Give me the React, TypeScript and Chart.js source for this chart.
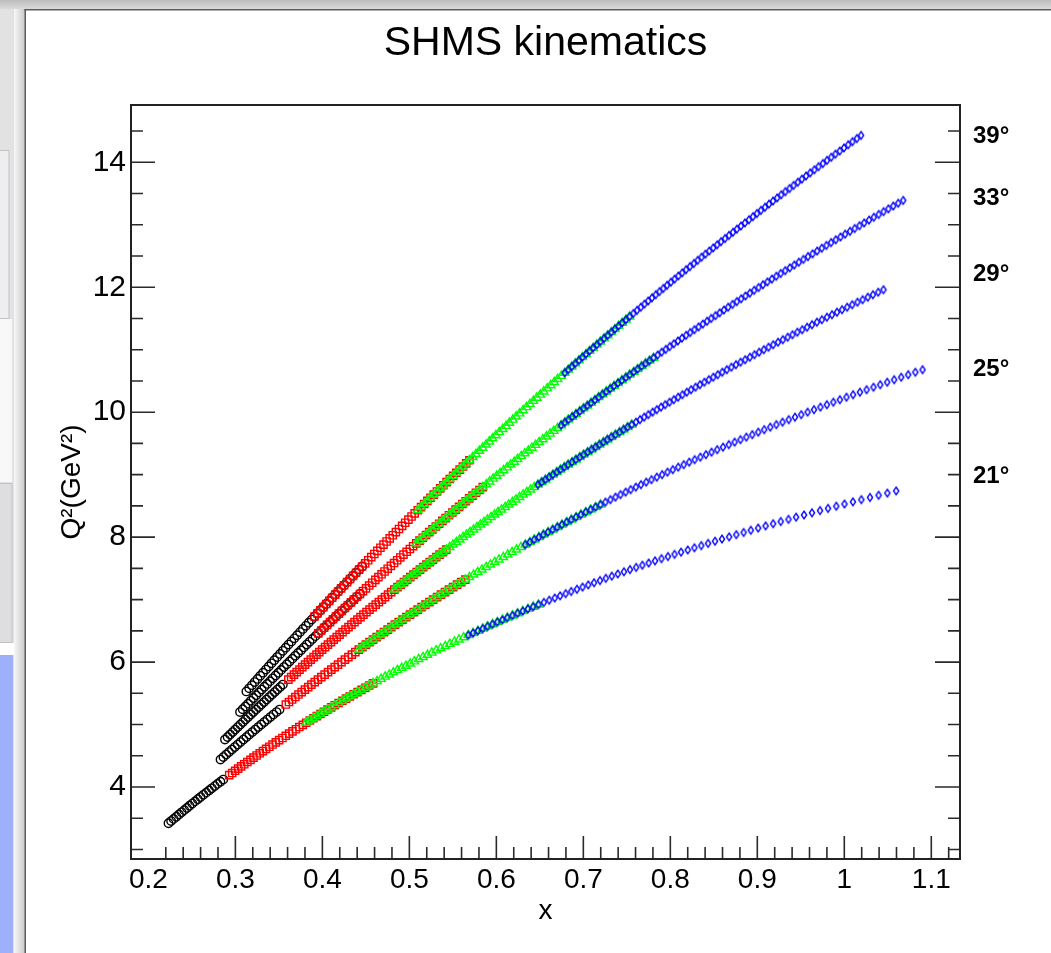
import React, { useEffect, useRef } from 'react';
import { Chart, registerables } from 'chart.js';

Chart.register(...registerables);

const FONT = '"Liberation Sans", Arial, Helvetica, sans-serif';

// ---------------- text / ticks ----------------
const TITLE = 'SHMS kinematics';
const X_TITLE = 'x';
const Y_TITLE = 'Q²(GeV²)';
const X_TICKS = [0.2, 0.3, 0.4, 0.5, 0.6, 0.7, 0.8, 0.9, 1.0, 1.1];
const X_TICK_LABELS = ['0.2', '0.3', '0.4', '0.5', '0.6', '0.7', '0.8', '0.9', '1', '1.1'];
const Y_TICKS = [4, 6, 8, 10, 12, 14];
const Y_TICK_LABELS = ['4', '6', '8', '10', '12', '14'];
const ANGLE_LABELS = ['21°', '25°', '29°', '33°', '39°'];
const ANGLE_LABEL_Q2 = [8.965, 10.68, 12.21, 13.43, 14.41];

// ---------------- data: x and Q² along each spectrometer angle ----------------
const Q2_21 = [3.42, 3.455, 3.49, 3.525, 3.56, 3.595, 3.63, 3.665, 3.70, 3.735,
  3.77, 3.805, 3.84, 3.875, 3.91, 3.945, 3.98, 4.015, 4.05, 4.085,
  4.12, 4.155, 4.19, 4.225, 4.26, 4.295, 4.33, 4.365, 4.40, 4.435,
  4.47, 4.505, 4.54, 4.575, 4.61, 4.645, 4.68, 4.715, 4.75, 4.785,
  4.82, 4.855, 4.89, 4.925, 4.96, 4.995, 5.03, 5.065, 5.10, 5.135,
  5.17, 5.205, 5.24, 5.275, 5.31, 5.345, 5.38, 5.415, 5.45, 5.485,
  5.52, 5.555, 5.59, 5.625, 5.66, 5.695, 5.73, 5.765, 5.80, 5.835,
  5.87, 5.905, 5.94, 5.975, 6.01, 6.045, 6.08, 6.115, 6.15, 6.185,
  6.22, 6.255, 6.29, 6.325, 6.36, 6.395, 6.43, 6.465, 6.50, 6.535,
  6.57, 6.605, 6.64, 6.675, 6.71, 6.745, 6.78, 6.815, 6.85, 6.885,
  6.92, 6.955, 6.99, 7.025, 7.06, 7.095, 7.13, 7.165, 7.20, 7.235,
  7.27, 7.305, 7.34, 7.375, 7.41, 7.445, 7.48, 7.515, 7.55, 7.585,
  7.62, 7.655, 7.69, 7.725, 7.76, 7.795, 7.83, 7.865, 7.90, 7.935,
  7.97, 8.005, 8.04, 8.075, 8.11, 8.145, 8.18, 8.215, 8.25, 8.285,
  8.32, 8.355, 8.39, 8.425, 8.46, 8.495, 8.53, 8.565, 8.60, 8.635,
  8.67, 8.705, 8.74];
const X_21 = [0.2231, 0.2261, 0.2290, 0.2321, 0.2351, 0.2382, 0.2412, 0.2443, 0.2473, 0.2505,
  0.2536, 0.2568, 0.2599, 0.2632, 0.2664, 0.2697, 0.2729, 0.2762, 0.2794, 0.2828,
  0.2861, 0.2895, 0.2929, 0.2963, 0.2997, 0.3032, 0.3066, 0.3102, 0.3137, 0.3173,
  0.3208, 0.3244, 0.3280, 0.3317, 0.3353, 0.3390, 0.3427, 0.3465, 0.3503, 0.3541,
  0.3579, 0.3618, 0.3656, 0.3696, 0.3735, 0.3775, 0.3814, 0.3855, 0.3895, 0.3936,
  0.3976, 0.4018, 0.4059, 0.4101, 0.4143, 0.4186, 0.4229, 0.4272, 0.4315, 0.4359,
  0.4403, 0.4448, 0.4493, 0.4538, 0.4583, 0.4629, 0.4675, 0.4722, 0.4769, 0.4816,
  0.4863, 0.4912, 0.4960, 0.5009, 0.5057, 0.5107, 0.5157, 0.5208, 0.5258, 0.5309,
  0.5360, 0.5413, 0.5465, 0.5518, 0.5570, 0.5624, 0.5678, 0.5733, 0.5788, 0.5844,
  0.5899, 0.5956, 0.6012, 0.6070, 0.6127, 0.6186, 0.6244, 0.6304, 0.6363, 0.6424,
  0.6484, 0.6546, 0.6608, 0.6671, 0.6733, 0.6797, 0.6861, 0.6926, 0.6991, 0.7057,
  0.7123, 0.7191, 0.7258, 0.7327, 0.7396, 0.7466, 0.7536, 0.7607, 0.7678, 0.7751,
  0.7824, 0.7898, 0.7972, 0.8048, 0.8123, 0.8200, 0.8277, 0.8356, 0.8434, 0.8514,
  0.8594, 0.8676, 0.8758, 0.8842, 0.8925, 0.9010, 0.9095, 0.9182, 0.9269, 0.9358,
  0.9446, 0.9537, 0.9628, 0.9721, 0.9813, 0.9908, 1.0002, 1.0099, 1.0196, 1.0295,
  1.0394, 1.0495, 1.0596];

const Q2_25 = [4.44, 4.48, 4.52, 4.56, 4.60, 4.64, 4.68, 4.72, 4.76, 4.80,
  4.84, 4.88, 4.92, 4.96, 5.00, 5.04, 5.08, 5.12, 5.16, 5.20,
  5.24, 5.28, 5.32, 5.36, 5.40, 5.44, 5.48, 5.52, 5.56, 5.60,
  5.64, 5.68, 5.72, 5.76, 5.80, 5.84, 5.88, 5.92, 5.96, 6.00,
  6.04, 6.08, 6.12, 6.16, 6.20, 6.24, 6.28, 6.32, 6.36, 6.40,
  6.44, 6.48, 6.52, 6.56, 6.60, 6.64, 6.68, 6.72, 6.76, 6.80,
  6.84, 6.88, 6.92, 6.96, 7.00, 7.04, 7.08, 7.12, 7.16, 7.20,
  7.24, 7.28, 7.32, 7.36, 7.40, 7.44, 7.48, 7.52, 7.56, 7.60,
  7.64, 7.68, 7.72, 7.76, 7.80, 7.84, 7.88, 7.92, 7.96, 8.00,
  8.04, 8.08, 8.12, 8.16, 8.20, 8.24, 8.28, 8.32, 8.36, 8.40,
  8.44, 8.48, 8.52, 8.56, 8.60, 8.64, 8.68, 8.72, 8.76, 8.80,
  8.84, 8.88, 8.92, 8.96, 9.00, 9.04, 9.08, 9.12, 9.16, 9.20,
  9.24, 9.28, 9.32, 9.36, 9.40, 9.44, 9.48, 9.52, 9.56, 9.60,
  9.64, 9.68, 9.72, 9.76, 9.80, 9.84, 9.88, 9.92, 9.96, 10.00,
  10.04, 10.08, 10.12, 10.16, 10.20, 10.24, 10.28, 10.32, 10.36, 10.40,
  10.44, 10.48, 10.52, 10.56, 10.60, 10.64, 10.68];
const X_25 = [0.2829, 0.2862, 0.2894, 0.2927, 0.2960, 0.2993, 0.3026, 0.3060, 0.3093, 0.3127,
  0.3160, 0.3195, 0.3229, 0.3263, 0.3297, 0.3332, 0.3367, 0.3402, 0.3437, 0.3473,
  0.3508, 0.3544, 0.3580, 0.3616, 0.3652, 0.3689, 0.3725, 0.3762, 0.3799, 0.3837,
  0.3874, 0.3912, 0.3949, 0.3988, 0.4026, 0.4065, 0.4103, 0.4142, 0.4180, 0.4220,
  0.4259, 0.4299, 0.4339, 0.4379, 0.4419, 0.4460, 0.4500, 0.4541, 0.4582, 0.4624,
  0.4666, 0.4708, 0.4750, 0.4792, 0.4834, 0.4877, 0.4920, 0.4964, 0.5007, 0.5051,
  0.5095, 0.5140, 0.5184, 0.5229, 0.5273, 0.5319, 0.5364, 0.5410, 0.5456, 0.5503,
  0.5549, 0.5596, 0.5643, 0.5691, 0.5738, 0.5786, 0.5834, 0.5883, 0.5931, 0.5981,
  0.6030, 0.6080, 0.6130, 0.6181, 0.6231, 0.6282, 0.6333, 0.6385, 0.6436, 0.6489,
  0.6541, 0.6594, 0.6647, 0.6701, 0.6754, 0.6808, 0.6862, 0.6917, 0.6972, 0.7028,
  0.7084, 0.7141, 0.7197, 0.7254, 0.7311, 0.7369, 0.7427, 0.7486, 0.7544, 0.7603,
  0.7662, 0.7723, 0.7783, 0.7844, 0.7905, 0.7967, 0.8028, 0.8091, 0.8154, 0.8217,
  0.8280, 0.8345, 0.8409, 0.8474, 0.8539, 0.8606, 0.8672, 0.8739, 0.8806, 0.8874,
  0.8942, 0.9011, 0.9079, 0.9149, 0.9219, 0.9290, 0.9361, 0.9433, 0.9505, 0.9578,
  0.9651, 0.9725, 0.9799, 0.9874, 0.9949, 1.0025, 1.0101, 1.0179, 1.0256, 1.0335,
  1.0413, 1.0493, 1.0573, 1.0654, 1.0735, 1.0817, 1.0899];

const Q2_29 = [4.76, 4.80, 4.84, 4.88, 4.92, 4.96, 5.00, 5.04, 5.08, 5.12,
  5.16, 5.20, 5.24, 5.28, 5.32, 5.36, 5.40, 5.44, 5.48, 5.52,
  5.56, 5.60, 5.64, 5.68, 5.72, 5.76, 5.80, 5.84, 5.88, 5.92,
  5.96, 6.00, 6.04, 6.08, 6.12, 6.16, 6.20, 6.24, 6.28, 6.32,
  6.36, 6.40, 6.44, 6.48, 6.52, 6.56, 6.60, 6.64, 6.68, 6.72,
  6.76, 6.80, 6.84, 6.88, 6.92, 6.96, 7.00, 7.04, 7.08, 7.12,
  7.16, 7.20, 7.24, 7.28, 7.32, 7.36, 7.40, 7.44, 7.48, 7.52,
  7.56, 7.60, 7.64, 7.68, 7.72, 7.76, 7.80, 7.84, 7.88, 7.92,
  7.96, 8.00, 8.04, 8.08, 8.12, 8.16, 8.20, 8.24, 8.28, 8.32,
  8.36, 8.40, 8.44, 8.48, 8.52, 8.56, 8.60, 8.64, 8.68, 8.72,
  8.76, 8.80, 8.84, 8.88, 8.92, 8.96, 9.00, 9.04, 9.08, 9.12,
  9.16, 9.20, 9.24, 9.28, 9.32, 9.36, 9.40, 9.44, 9.48, 9.52,
  9.56, 9.60, 9.64, 9.68, 9.72, 9.76, 9.80, 9.84, 9.88, 9.92,
  9.96, 10.00, 10.04, 10.08, 10.12, 10.16, 10.20, 10.24, 10.28, 10.32,
  10.36, 10.40, 10.44, 10.48, 10.52, 10.56, 10.60, 10.64, 10.68, 10.72,
  10.76, 10.80, 10.84, 10.88, 10.92, 10.96, 11.00, 11.04, 11.08, 11.12,
  11.16, 11.20, 11.24, 11.28, 11.32, 11.36, 11.40, 11.44, 11.48, 11.52,
  11.56, 11.60, 11.64, 11.68, 11.72, 11.76, 11.80, 11.84, 11.88, 11.92,
  11.96];
const X_29 = [0.2880, 0.2910, 0.2939, 0.2969, 0.2998, 0.3028, 0.3057, 0.3087, 0.3116, 0.3147,
  0.3177, 0.3207, 0.3237, 0.3268, 0.3298, 0.3329, 0.3359, 0.3390, 0.3421, 0.3452,
  0.3483, 0.3515, 0.3546, 0.3578, 0.3609, 0.3641, 0.3673, 0.3705, 0.3737, 0.3769,
  0.3801, 0.3834, 0.3866, 0.3899, 0.3932, 0.3965, 0.3997, 0.4031, 0.4064, 0.4098,
  0.4131, 0.4165, 0.4198, 0.4232, 0.4266, 0.4300, 0.4334, 0.4369, 0.4403, 0.4438,
  0.4472, 0.4507, 0.4542, 0.4578, 0.4613, 0.4649, 0.4684, 0.4720, 0.4755, 0.4791,
  0.4827, 0.4864, 0.4900, 0.4937, 0.4973, 0.5010, 0.5047, 0.5084, 0.5121, 0.5159,
  0.5196, 0.5234, 0.5271, 0.5309, 0.5347, 0.5386, 0.5424, 0.5463, 0.5501, 0.5540,
  0.5579, 0.5618, 0.5657, 0.5697, 0.5737, 0.5777, 0.5816, 0.5857, 0.5897, 0.5938,
  0.5978, 0.6019, 0.6059, 0.6101, 0.6142, 0.6184, 0.6225, 0.6267, 0.6308, 0.6351,
  0.6393, 0.6436, 0.6478, 0.6521, 0.6564, 0.6607, 0.6650, 0.6694, 0.6737, 0.6781,
  0.6825, 0.6870, 0.6914, 0.6959, 0.7003, 0.7049, 0.7094, 0.7140, 0.7185, 0.7231,
  0.7276, 0.7323, 0.7369, 0.7416, 0.7462, 0.7509, 0.7556, 0.7604, 0.7651, 0.7699,
  0.7747, 0.7796, 0.7844, 0.7893, 0.7941, 0.7991, 0.8040, 0.8090, 0.8139, 0.8189,
  0.8239, 0.8290, 0.8340, 0.8391, 0.8442, 0.8494, 0.8545, 0.8597, 0.8649, 0.8702,
  0.8754, 0.8807, 0.8860, 0.8914, 0.8967, 0.9021, 0.9074, 0.9129, 0.9183, 0.9238,
  0.9293, 0.9349, 0.9404, 0.9460, 0.9516, 0.9572, 0.9628, 0.9685, 0.9742, 0.9800,
  0.9858, 0.9916, 0.9974, 1.0033, 1.0091, 1.0151, 1.0210, 1.0270, 1.0329, 1.0390,
  1.0450];

const Q2_33 = [5.20, 5.245, 5.29, 5.335, 5.38, 5.425, 5.47, 5.515, 5.56, 5.605,
  5.65, 5.695, 5.74, 5.785, 5.83, 5.875, 5.92, 5.965, 6.01, 6.055,
  6.10, 6.145, 6.19, 6.235, 6.28, 6.325, 6.37, 6.415, 6.46, 6.505,
  6.55, 6.595, 6.64, 6.685, 6.73, 6.775, 6.82, 6.865, 6.91, 6.955,
  7.00, 7.045, 7.09, 7.135, 7.18, 7.225, 7.27, 7.315, 7.36, 7.405,
  7.45, 7.495, 7.54, 7.585, 7.63, 7.675, 7.72, 7.765, 7.81, 7.855,
  7.90, 7.945, 7.99, 8.035, 8.08, 8.125, 8.17, 8.215, 8.26, 8.305,
  8.35, 8.395, 8.44, 8.485, 8.53, 8.575, 8.62, 8.665, 8.71, 8.755,
  8.80, 8.845, 8.89, 8.935, 8.98, 9.025, 9.07, 9.115, 9.16, 9.205,
  9.25, 9.295, 9.34, 9.385, 9.43, 9.475, 9.52, 9.565, 9.61, 9.655,
  9.70, 9.745, 9.79, 9.835, 9.88, 9.925, 9.97, 10.015, 10.06, 10.105,
  10.15, 10.195, 10.24, 10.285, 10.33, 10.375, 10.42, 10.465, 10.51, 10.555,
  10.60, 10.645, 10.69, 10.735, 10.78, 10.825, 10.87, 10.915, 10.96, 11.005,
  11.05, 11.095, 11.14, 11.185, 11.23, 11.275, 11.32, 11.365, 11.41, 11.455,
  11.50, 11.545, 11.59, 11.635, 11.68, 11.725, 11.77, 11.815, 11.86, 11.905,
  11.95, 11.995, 12.04, 12.085, 12.13, 12.175, 12.22, 12.265, 12.31, 12.355,
  12.40, 12.445, 12.49, 12.535, 12.58, 12.625, 12.67, 12.715, 12.76, 12.805,
  12.85, 12.895, 12.94, 12.985, 13.03, 13.075, 13.12, 13.165, 13.21, 13.255,
  13.30, 13.345, 13.39];
const X_33 = [0.3053, 0.3084, 0.3115, 0.3146, 0.3177, 0.3208, 0.3239, 0.3271, 0.3302, 0.3334,
  0.3366, 0.3398, 0.3429, 0.3462, 0.3494, 0.3526, 0.3558, 0.3591, 0.3623, 0.3656,
  0.3688, 0.3721, 0.3754, 0.3787, 0.3820, 0.3853, 0.3886, 0.3920, 0.3953, 0.3987,
  0.4020, 0.4054, 0.4088, 0.4122, 0.4156, 0.4190, 0.4224, 0.4259, 0.4293, 0.4328,
  0.4362, 0.4397, 0.4432, 0.4467, 0.4502, 0.4538, 0.4573, 0.4609, 0.4644, 0.4680,
  0.4715, 0.4751, 0.4787, 0.4824, 0.4860, 0.4896, 0.4932, 0.4969, 0.5006, 0.5043,
  0.5080, 0.5117, 0.5154, 0.5191, 0.5228, 0.5266, 0.5304, 0.5342, 0.5379, 0.5417,
  0.5455, 0.5494, 0.5532, 0.5571, 0.5609, 0.5648, 0.5687, 0.5726, 0.5765, 0.5805,
  0.5844, 0.5884, 0.5923, 0.5963, 0.6003, 0.6043, 0.6083, 0.6124, 0.6164, 0.6205,
  0.6245, 0.6286, 0.6327, 0.6368, 0.6409, 0.6451, 0.6492, 0.6534, 0.6576, 0.6618,
  0.6660, 0.6702, 0.6744, 0.6787, 0.6829, 0.6872, 0.6915, 0.6959, 0.7002, 0.7046,
  0.7089, 0.7133, 0.7176, 0.7220, 0.7264, 0.7309, 0.7353, 0.7398, 0.7443, 0.7488,
  0.7533, 0.7579, 0.7624, 0.7670, 0.7715, 0.7761, 0.7807, 0.7854, 0.7900, 0.7947,
  0.7993, 0.8040, 0.8087, 0.8134, 0.8181, 0.8229, 0.8277, 0.8325, 0.8373, 0.8422,
  0.8470, 0.8519, 0.8567, 0.8616, 0.8665, 0.8715, 0.8764, 0.8814, 0.8864, 0.8914,
  0.8964, 0.9015, 0.9065, 0.9116, 0.9167, 0.9218, 0.9269, 0.9321, 0.9373, 0.9425,
  0.9477, 0.9530, 0.9582, 0.9635, 0.9688, 0.9741, 0.9794, 0.9848, 0.9901, 0.9956,
  1.0010, 1.0065, 1.0119, 1.0174, 1.0228, 1.0284, 1.0339, 1.0395, 1.0451, 1.0507,
  1.0563, 1.0620, 1.0677];

const Q2_39 = [5.53, 5.58, 5.63, 5.68, 5.73, 5.78, 5.83, 5.88, 5.93, 5.98,
  6.03, 6.08, 6.13, 6.18, 6.23, 6.28, 6.33, 6.38, 6.43, 6.48,
  6.53, 6.58, 6.63, 6.68, 6.73, 6.78, 6.83, 6.88, 6.93, 6.98,
  7.03, 7.08, 7.13, 7.18, 7.23, 7.28, 7.33, 7.38, 7.43, 7.48,
  7.53, 7.58, 7.63, 7.68, 7.73, 7.78, 7.83, 7.88, 7.93, 7.98,
  8.03, 8.08, 8.13, 8.18, 8.23, 8.28, 8.33, 8.38, 8.43, 8.48,
  8.53, 8.58, 8.63, 8.68, 8.73, 8.78, 8.83, 8.88, 8.93, 8.98,
  9.03, 9.08, 9.13, 9.18, 9.23, 9.28, 9.33, 9.38, 9.43, 9.48,
  9.53, 9.58, 9.63, 9.68, 9.73, 9.78, 9.83, 9.88, 9.93, 9.98,
  10.03, 10.08, 10.13, 10.18, 10.23, 10.28, 10.33, 10.38, 10.43, 10.48,
  10.53, 10.58, 10.63, 10.68, 10.73, 10.78, 10.83, 10.88, 10.93, 10.98,
  11.03, 11.08, 11.13, 11.18, 11.23, 11.28, 11.33, 11.38, 11.43, 11.48,
  11.53, 11.58, 11.63, 11.68, 11.73, 11.78, 11.83, 11.88, 11.93, 11.98,
  12.03, 12.08, 12.13, 12.18, 12.23, 12.28, 12.33, 12.38, 12.43, 12.48,
  12.53, 12.58, 12.63, 12.68, 12.73, 12.78, 12.83, 12.88, 12.93, 12.98,
  13.03, 13.08, 13.13, 13.18, 13.23, 13.28, 13.33, 13.38, 13.43, 13.48,
  13.53, 13.58, 13.63, 13.68, 13.73, 13.78, 13.83, 13.88, 13.93, 13.98,
  14.03, 14.08, 14.13, 14.18, 14.23, 14.28, 14.33, 14.38, 14.43];
const X_39 = [0.3126, 0.3158, 0.3190, 0.3222, 0.3254, 0.3286, 0.3318, 0.3351, 0.3383, 0.3415,
  0.3447, 0.3480, 0.3513, 0.3546, 0.3578, 0.3611, 0.3644, 0.3677, 0.3710, 0.3743,
  0.3776, 0.3810, 0.3843, 0.3877, 0.3910, 0.3944, 0.3977, 0.4011, 0.4045, 0.4079,
  0.4112, 0.4147, 0.4181, 0.4215, 0.4249, 0.4284, 0.4318, 0.4353, 0.4387, 0.4422,
  0.4457, 0.4492, 0.4527, 0.4562, 0.4597, 0.4632, 0.4667, 0.4703, 0.4738, 0.4774,
  0.4809, 0.4845, 0.4881, 0.4917, 0.4952, 0.4989, 0.5025, 0.5061, 0.5097, 0.5134,
  0.5170, 0.5207, 0.5243, 0.5280, 0.5317, 0.5354, 0.5391, 0.5428, 0.5465, 0.5503,
  0.5540, 0.5578, 0.5615, 0.5653, 0.5690, 0.5728, 0.5766, 0.5804, 0.5842, 0.5881,
  0.5919, 0.5957, 0.5995, 0.6034, 0.6073, 0.6112, 0.6150, 0.6189, 0.6228, 0.6268,
  0.6307, 0.6347, 0.6386, 0.6426, 0.6465, 0.6505, 0.6545, 0.6585, 0.6625, 0.6665,
  0.6705, 0.6746, 0.6786, 0.6827, 0.6867, 0.6908, 0.6949, 0.6990, 0.7031, 0.7072,
  0.7113, 0.7155, 0.7196, 0.7238, 0.7280, 0.7322, 0.7363, 0.7405, 0.7447, 0.7490,
  0.7532, 0.7575, 0.7617, 0.7660, 0.7703, 0.7746, 0.7789, 0.7832, 0.7875, 0.7919,
  0.7962, 0.8006, 0.8049, 0.8093, 0.8137, 0.8181, 0.8225, 0.8270, 0.8314, 0.8359,
  0.8403, 0.8448, 0.8493, 0.8538, 0.8583, 0.8629, 0.8674, 0.8720, 0.8765, 0.8811,
  0.8857, 0.8903, 0.8949, 0.8995, 0.9041, 0.9088, 0.9134, 0.9181, 0.9228, 0.9275,
  0.9322, 0.9370, 0.9417, 0.9465, 0.9512, 0.9560, 0.9608, 0.9656, 0.9704, 0.9753,
  0.9801, 0.9850, 0.9898, 0.9947, 0.9996, 1.0045, 1.0094, 1.0144, 1.0193];

// momentum settings: first/last index of each setting along the angle's table
const SET_21 = { black: [0, 20], red: [22, 64], green: [46, 100], blue: [86, 152] };
const SET_25 = { black: [0, 20], red: [22, 72], green: [44, 102], blue: [86, 156] };
const SET_29 = { black: [0, 22], red: [24, 76], green: [60, 126], blue: [102, 180] };
const SET_33 = { black: [0, 42], red: [28, 80], green: [60, 126], blue: [102, 182] };
const SET_39 = { black: [0, 40], red: [24, 74], green: [58, 120], blue: [102, 178] };

const ANGLES = [
  { name: '21°', x: X_21, q2: Q2_21, sets: SET_21 },
  { name: '25°', x: X_25, q2: Q2_25, sets: SET_25 },
  { name: '29°', x: X_29, q2: Q2_29, sets: SET_29 },
  { name: '33°', x: X_33, q2: Q2_33, sets: SET_33 },
  { name: '39°', x: X_39, q2: Q2_39, sets: SET_39 },
];

const SETTING_ORDER = ['black', 'red', 'green', 'blue'];

function makeDiamond(): HTMLCanvasElement {
  const c = document.createElement('canvas');
  c.width = 10;
  c.height = 12;
  const g = c.getContext('2d') as CanvasRenderingContext2D;
  g.strokeStyle = '#0000ff';
  g.lineWidth = 1.4;
  g.beginPath();
  g.moveTo(5, 2.2);
  g.lineTo(7.6, 6);
  g.lineTo(5, 9.8);
  g.lineTo(2.4, 6);
  g.closePath();
  g.stroke();
  return c;
}

const chromePlugin = {
  id: 'chrome',
  beforeDraw(chart: any) {
    const { ctx, width, height } = chart;
    ctx.save();
    ctx.fillStyle = '#ffffff';
    ctx.fillRect(0, 0, width, height);
    // left strip of the window behind
    ctx.fillStyle = '#e2e2e2';
    ctx.fillRect(0, 0, 14, height);
    ctx.fillStyle = '#eeeef1';
    ctx.fillRect(0, 150, 9, 168);
    ctx.strokeStyle = '#c2c2c2';
    ctx.lineWidth = 1;
    ctx.strokeRect(-1, 150.5, 10, 168);
    ctx.fillStyle = '#f8f8f8';
    ctx.fillRect(0, 319, 12, 163);
    ctx.fillStyle = '#dedee0';
    ctx.fillRect(0, 483, 12, 159);
    ctx.strokeRect(-1, 483.5, 13, 159);
    ctx.fillStyle = '#ffffff';
    ctx.fillRect(0, 643, 14, 12);
    ctx.fillStyle = '#9eaffc';
    ctx.fillRect(0, 655, 13, height - 655);
    const g = ctx.createLinearGradient(14, 0, 25, 0);
    g.addColorStop(0, '#f7f7f7');
    g.addColorStop(1, '#c9c9c9');
    ctx.fillStyle = g;
    ctx.fillRect(14, 0, 11, height);
    // top bar
    const t = ctx.createLinearGradient(0, 0, 0, 9);
    t.addColorStop(0, '#bcbcbc');
    t.addColorStop(1, '#dadada');
    ctx.fillStyle = t;
    ctx.fillRect(0, 0, width, 9);
    ctx.fillStyle = '#5c5c5c';
    ctx.fillRect(24.5, 9, width, 1.5);
    ctx.fillRect(24.5, 9, 1.5, height);
    ctx.restore();
  },
  afterDraw(chart: any) {
    const { ctx, chartArea: a, scales } = chart;
    const xs = scales.x;
    const ys = scales.y;
    ctx.save();
    ctx.strokeStyle = '#2a2a2a';
    ctx.lineWidth = 1.6;
    ctx.beginPath();
    // x ticks (inward from the bottom)
    for (let i = 11; i <= 56; i++) {
      const v = i * 0.02;
      const major = i % 5 === 0;
      const px = xs.getPixelForValue(v);
      ctx.moveTo(px, a.bottom);
      ctx.lineTo(px, a.bottom - (major ? 23 : 12));
    }
    // y ticks, left and right
    for (let i = 6; i <= 29; i++) {
      const v = i * 0.5;
      const major = v % 2 === 0 && v >= 4;
      const py = ys.getPixelForValue(v);
      ctx.moveTo(a.left, py);
      ctx.lineTo(a.left + (major ? 24 : 12), py);
      ctx.moveTo(a.right, py);
      ctx.lineTo(a.right - (major ? 25 : 12), py);
    }
    ctx.stroke();
    // frame
    ctx.lineWidth = 2;
    ctx.strokeStyle = '#222222';
    ctx.strokeRect(a.left, a.top, a.right - a.left, a.bottom - a.top);
    // angle labels
    ctx.fillStyle = '#000000';
    ctx.font = 'bold 24px ' + FONT;
    ctx.textAlign = 'left';
    ctx.textBaseline = 'middle';
    ANGLE_LABELS.forEach((lab, i) => {
      ctx.fillText(lab, a.right + 13, ys.getPixelForValue(ANGLE_LABEL_Q2[i]));
    });
    ctx.restore();
  },
};

export default function App() {
  const ref = useRef<HTMLCanvasElement>(null);

  useEffect(() => {
    const canvas = ref.current;
    if (!canvas) return;
    const diamond = makeDiamond();
    const STYLE: any = {
      black: { pointStyle: 'circle', radius: 4.2, color: '#000000', order: 3 },
      red: { pointStyle: 'rect', radius: 5.1, color: '#ff0000', order: 2 },
      green: { pointStyle: 'triangle', radius: 4.8, color: '#00ff00', order: 1 },
      blue: { pointStyle: diamond, radius: 4.5, color: '#0000ff', order: 0 },
    };
    const datasets: any[] = [];
    ANGLES.forEach((ang) => {
      SETTING_ORDER.forEach((key) => {
        const [i0, i1] = (ang.sets as any)[key];
        const pts: { x: number; y: number }[] = [];
        for (let i = i0; i <= i1; i++) pts.push({ x: ang.x[i], y: ang.q2[i] });
        const st = STYLE[key];
        datasets.push({
          label: ang.name + ' ' + key,
          data: pts,
          showLine: false,
          pointStyle: st.pointStyle,
          pointRadius: st.radius,
          pointBorderColor: st.color,
          pointBackgroundColor: 'rgba(0,0,0,0)',
          pointBorderWidth: 1.4,
          order: st.order,
        });
      });
    });

    const chart = new Chart(canvas, {
      type: 'scatter',
      data: { datasets },
      options: {
        responsive: false,
        animation: false,
        devicePixelRatio: 1,
        events: [],
        layout: { padding: { left: 0, right: 91, top: 0, bottom: 0 } },
        plugins: {
          legend: { display: false },
          tooltip: { enabled: false },
          title: {
            display: true,
            text: TITLE,
            fullSize: false,
            color: '#000000',
            font: { family: FONT, size: 41, weight: 'normal', lineHeight: 1.2 },
            padding: { top: 19, bottom: 36.8 },
          },
        },
        scales: {
          x: {
            type: 'linear',
            position: 'bottom',
            min: 0.18,
            max: 1.133,
            afterBuildTicks: (s: any) => {
              s.ticks = X_TICKS.map((v) => ({ value: v }));
            },
            afterFit: (s: any) => {
              s.height = 94;
            },
            grid: { display: false, drawTicks: false },
            border: { display: false },
            ticks: {
              autoSkip: false,
              maxRotation: 0,
              minRotation: 0,
              padding: 4,
              color: '#000000',
              font: { family: FONT, size: 28 },
              callback: (_v: any, i: number) => X_TICK_LABELS[i],
            },
            title: {
              display: true,
              text: X_TITLE,
              color: '#000000',
              font: { family: FONT, size: 28 },
              padding: { top: 0, bottom: 25 },
            },
          },
          y: {
            type: 'linear',
            position: 'left',
            min: 2.848,
            max: 14.917,
            afterBuildTicks: (s: any) => {
              s.ticks = Y_TICKS.map((v) => ({ value: v }));
            },
            afterFit: (s: any) => {
              s.width = 131;
            },
            grid: { display: false, drawTicks: false },
            border: { display: false },
            ticks: {
              autoSkip: false,
              padding: 5,
              color: '#000000',
              font: { family: FONT, size: 30 },
              callback: (_v: any, i: number) => Y_TICK_LABELS[i],
            },
            title: {
              display: true,
              text: Y_TITLE,
              color: '#000000',
              font: { family: FONT, size: 28 },
              padding: { top: 55, bottom: 0 },
            },
          },
        },
      },
      plugins: [chromePlugin],
    } as any);
    return () => chart.destroy();
  }, []);

  return (
    <div style={{ position: 'fixed', left: 0, top: 0, width: 1051, height: 953, background: '#ffffff' }}>
      <canvas ref={ref} width={1051} height={953} style={{ display: 'block', width: 1051, height: 953 }} />
    </div>
  );
}
